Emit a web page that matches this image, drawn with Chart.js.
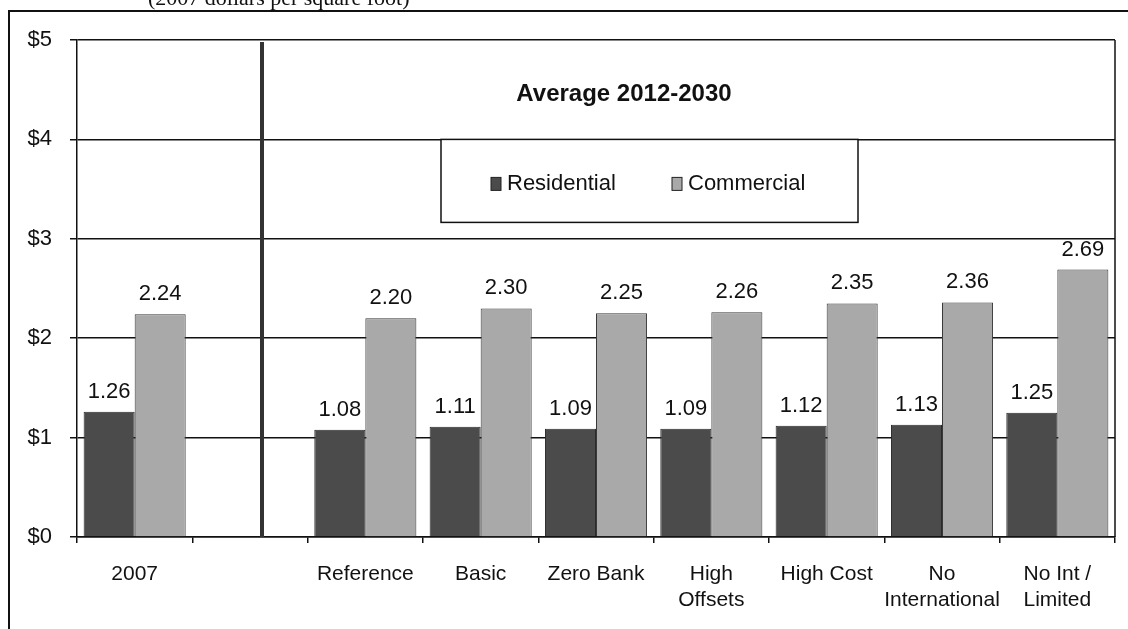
<!DOCTYPE html>
<html>
<head>
<meta charset="utf-8">
<script src="https://cdn.jsdelivr.net/npm/chart.js@4.4.1/dist/chart.umd.min.js"></script>
<style>
  html, body { margin: 0; padding: 0; background: #ffffff; }
  canvas { display: block; }
</style>
</head>
<body>
<canvas id="chart" width="1128" height="629"></canvas>
<script>
// values (2007 dollars per square foot)
const categories = [
  "2007",
  "",
  "Reference",
  "Basic",
  "Zero Bank",
  ["High", "Offsets"],
  "High Cost",
  ["No", "International"],
  ["No Int /", "Limited"],
];
const residential = [1.26, null, 1.08, 1.11, 1.09, 1.09, 1.12, 1.13, 1.25];
const commercial = [2.24, null, 2.2, 2.3, 2.25, 2.26, 2.35, 2.36, 2.69];
const yTicks = [0, 1, 2, 3, 4, 5];

const FONT = "Arial, 'Liberation Sans', sans-serif";
const darkGrey = "#4b4b4b";
const lightGrey = "#a9a9a9";

const ctx = document.getElementById("chart").getContext("2d");

new Chart(ctx, {
  type: "bar",
  data: {
    labels: categories,
    datasets: [
      {
        label: "Residential",
        data: residential,
        backgroundColor: darkGrey,
        borderColor: "#2a2a2a",
        borderWidth: 1,
        categoryPercentage: 0.885,
        barPercentage: 1.0,
      },
      {
        label: "Commercial",
        data: commercial,
        backgroundColor: lightGrey,
        borderColor: "#3a3a3a",
        borderWidth: 1,
        categoryPercentage: 0.885,
        barPercentage: 1.0,
      },
    ],
  },
  options: {
    responsive: false,
    animation: false,
    devicePixelRatio: 1,
    layout: {
      padding: { top: 40, right: 13, bottom: 0, left: 0 },
    },
    plugins: {
      legend: { display: false },
      tooltip: { enabled: false },
    },
    scales: {
      x: {
        offset: true,
        grid: {
          offset: true,
          drawOnChartArea: false,
          drawTicks: true,
          tickLength: 6,
          color: "#111111",
          lineWidth: 1.5,
        },
        border: { display: true, color: "#111111", width: 1.5 },
        ticks: {
          color: "#111111",
          padding: 19,
          maxRotation: 0,
          autoSkip: false,
          font: { size: 21, family: FONT },
        },
        afterFit: (scale) => {
          scale.height = 92;
        },
      },
      y: {
        min: 0,
        max: 5,
        afterBuildTicks: (scale) => {
          scale.ticks = yTicks.map((v) => ({ value: v }));
        },
        grid: {
          drawTicks: true,
          tickLength: 7,
          color: "#111111",
          lineWidth: 1.5,
        },
        border: { display: true, color: "#111111", width: 1.5 },
        ticks: {
          color: "#111111",
          padding: 18,
          font: { size: 22, family: FONT },
          callback: (v) => "$" + v,
        },
        afterFit: (scale) => {
          scale.width = 77;
        },
      },
    },
  },
  plugins: [
    {
      id: "background",
      beforeDraw: (chart) => {
        const c = chart.ctx;
        c.save();
        c.fillStyle = "#ffffff";
        c.fillRect(0, 0, chart.width, chart.height);
        c.restore();
      },
    },
    {
      id: "decorations",
      afterDraw: (chart) => {
        const c = chart.ctx;
        const area = chart.chartArea;
        const x = chart.scales.x;
        c.save();

        // outer frame of the original figure, cut off by the crop
        c.strokeStyle = "#111111";
        c.lineWidth = 2;
        c.beginPath();
        c.moveTo(9, chart.height);
        c.lineTo(9, 11);
        c.lineTo(chart.width, 11);
        c.stroke();

        // clipped subtitle above the frame
        c.fillStyle = "#111111";
        c.font = "22px 'Liberation Serif', 'Times New Roman', serif";
        c.textAlign = "left";
        c.textBaseline = "alphabetic";
        c.fillText("(2007 dollars per square foot)", 148, 5);

        // right edge of plot area
        c.lineWidth = 1.5;
        c.beginPath();
        c.moveTo(area.right, area.top);
        c.lineTo(area.right, area.bottom);
        c.stroke();

        // thick divider between 2007 and the scenarios
        const sepX = x.getPixelForTick(1) + 12;
        c.strokeStyle = "#333333";
        c.lineWidth = 4;
        c.beginPath();
        c.moveTo(sepX, area.top + 2);
        c.lineTo(sepX, area.bottom);
        c.stroke();

        // value labels above bars
        c.fillStyle = "#111111";
        c.font = "22px " + FONT;
        c.textAlign = "center";
        c.textBaseline = "alphabetic";
        chart.data.datasets.forEach((ds, di) => {
          chart.getDatasetMeta(di).data.forEach((bar, i) => {
            if (ds.data[i] == null) return;
            c.fillText(ds.data[i].toFixed(2), bar.x, bar.y - 14);
          });
        });

        // heading
        c.font = "bold 24px " + FONT;
        c.fillText("Average 2012-2030", 624, 101);

        // legend box
        const yScale = chart.scales.y;
        const boxTop = yScale.getPixelForValue(4);
        c.fillStyle = "#ffffff";
        c.fillRect(441, boxTop, 417, 83);
        c.strokeStyle = "#111111";
        c.lineWidth = 1.5;
        c.strokeRect(441, boxTop, 417, 83);

        const legendX = [491, 672];
        c.font = "22px " + FONT;
        c.textAlign = "left";
        c.textBaseline = "middle";
        chart.data.datasets.forEach((ds, di) => {
          const lx = legendX[di];
          const ly = boxTop + 45;
          c.fillStyle = ds.backgroundColor;
          c.fillRect(lx, ly - 7, 10, 13);
          c.strokeStyle = "#222222";
          c.lineWidth = 1;
          c.strokeRect(lx, ly - 7, 10, 13);
          c.fillStyle = "#111111";
          c.fillText(ds.label, lx + 16, ly);
        });

        c.restore();
      },
    },
  ],
});
</script>
</body>
</html>
